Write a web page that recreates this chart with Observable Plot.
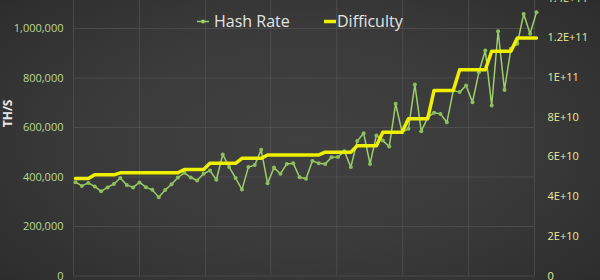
<!DOCTYPE html>
<html>
<head>
<meta charset="utf-8">
<script src="https://cdn.jsdelivr.net/npm/d3@7"></script>
<script src="https://cdn.jsdelivr.net/npm/@observablehq/plot@0.6"></script>
<style>
  html, body { margin: 0; padding: 0; background: #2a2a2a; }
  #chart {
    position: relative; width: 600px; height: 280px; overflow: hidden;
    background: radial-gradient(ellipse 80% 90% at 50% 50%, #414141 0%, #3a3a3a 45%, #2e2e2e 80%, #222222 100%);
    font-family: "Open Sans", sans-serif;
  }
  #chart svg { position: absolute; left: 0; top: 0; overflow: hidden; }
</style>
</head>
<body>
<div id="chart"></div>
<script>
// Network hash rate (TH/s), one reading per sample
const hashRate = [
  379000, 364000, 376000, 362000, 342000, 358000, 372000, 396000, 368000, 358000,
  378000, 359000, 348000, 318000, 347000, 371000, 398000, 417000, 398000, 386000,
  413000, 426000, 389000, 491000, 440000, 396000, 349000, 440000, 448000, 510000,
  375000, 438000, 413000, 453000, 456000, 399000, 393000, 465000, 456000, 453000,
  480000, 481000, 504000, 440000, 545000, 577000, 453000, 568000, 547000, 523000,
  696000, 581000, 595000, 774000, 585000, 640000, 660000, 655000, 621000, 749000,
  743000, 770000, 702000, 823000, 911000, 689000, 989000, 752000, 918000, 938000,
  1059000, 979000, 1066000
];

// Mining difficulty at each sample
const difficulty = [
  4.91e10, 4.91e10, 4.91e10, 5.10e10, 5.10e10, 5.10e10, 5.10e10, 5.20e10, 5.20e10, 5.20e10,
  5.20e10, 5.20e10, 5.20e10, 5.20e10, 5.20e10, 5.20e10, 5.20e10, 5.37e10, 5.37e10, 5.37e10,
  5.37e10, 5.68e10, 5.68e10, 5.68e10, 5.68e10, 5.68e10, 5.93e10, 5.93e10, 5.93e10, 5.93e10,
  6.10e10, 6.10e10, 6.10e10, 6.10e10, 6.10e10, 6.10e10, 6.10e10, 6.10e10, 6.10e10, 6.24e10,
  6.24e10, 6.24e10, 6.24e10, 6.24e10, 6.57e10, 6.57e10, 6.57e10, 6.57e10, 7.24e10, 7.24e10,
  7.24e10, 7.24e10, 7.92e10, 7.92e10, 7.92e10, 7.92e10, 9.35e10, 9.35e10, 9.35e10, 9.35e10,
  1.039e11, 1.039e11, 1.039e11, 1.039e11, 1.039e11, 1.1325e11, 1.1325e11, 1.1325e11, 1.1325e11, 1.2e11,
  1.2e11, 1.2e11, 1.2e11
];

// Axis ticks
const hashTicks = [0, 200000, 400000, 600000, 800000, 1000000];
const difficultyTicks = [0, 2e10, 4e10, 6e10, 8e10, 1e11, 1.2e11, 1.4e11];
const sampleGrid = [-0.3, 10, 20.3, 30.5, 40.8, 51.1, 61.4, 71.7];

// Difficulty shares the hash-rate axis: 1.2E+11 lines up with ~962,000 TH/s
const DIFF_PER_TH = 1.2e11 / 962000;

const rows = hashRate.map((h, i) => ({i, hash: h, diff: difficulty[i]}));
const fmtE = v => v === 0 ? "0" : d3.format(".2~e")(v).toUpperCase();

const HASH_COLOR = "#9ccf6a";
const DIFF_COLOR = "#eef000";

const chart = Plot.plot({
  width: 600,
  height: 280,
  marginLeft: 73,
  marginRight: 65,
  marginTop: 0,
  marginBottom: 4.5,
  style: {background: "transparent", fontFamily: "'Open Sans', sans-serif", overflow: "hidden"},
  x: {domain: [0, hashRate.length - 1], range: [75, 536], axis: null},
  y: {domain: [0, 1.4e6], range: [275.5, 275.5 - 1.4 * 247.5], axis: null},
  marks: [
    Plot.ruleY(hashTicks, {stroke: "#545454", strokeOpacity: 0.7}),
    Plot.ruleX(sampleGrid, {stroke: "#545454", strokeOpacity: 0.7}),
    Plot.axisY(hashTicks, {
      anchor: "left", tickSize: 0, tickPadding: 10, label: null,
      tickFormat: d3.format(","), fill: "#bcd98f", fontSize: 11
    }),
    Plot.axisY(difficultyTicks.map(v => v / DIFF_PER_TH), {
      anchor: "right", tickSize: 0, tickPadding: 12, label: null,
      tickFormat: v => fmtE(Math.round(v * DIFF_PER_TH / 1e9) * 1e9), fill: "#ecec9a", fontSize: 11
    }),
    Plot.line(rows, {x: "i", y: "hash", stroke: HASH_COLOR, strokeWidth: 1.5}),
    Plot.dot(rows, {x: "i", y: "hash", r: 2, fill: "#8cc05c", stroke: "none"}),
    Plot.line(rows, {x: "i", y: d => d.diff / DIFF_PER_TH, stroke: DIFF_COLOR, strokeWidth: 3.5}),
    Plot.text(["TH/S"], {
      frameAnchor: "left", rotate: -90, dx: -65, dy: -11,
      fill: "#e8e8e8", fontSize: 12, fontWeight: "bold"
    })
  ]
});

const root = document.getElementById("chart");
root.appendChild(chart);

// Series key across the top
const legendItems = [
  {label: "Hash Rate", color: HASH_COLOR, width: 1.5, dot: true, x: 197},
  {label: "Difficulty", color: DIFF_COLOR, width: 3.5, dot: false, x: 324}
];
const legend = d3.select(root).append("svg")
  .attr("width", 600).attr("height", 40);
const item = legend.selectAll("g").data(legendItems).join("g")
  .attr("transform", d => `translate(${d.x},21.5)`);
item.append("line")
  .attr("x1", 0).attr("x2", 12)
  .attr("stroke", d => d.color).attr("stroke-width", d => d.width);
item.filter(d => d.dot).append("circle")
  .attr("cx", 6).attr("r", 2).attr("fill", d => d.color);
item.append("text")
  .attr("x", d => d.dot ? 17 : 13).attr("y", 5.5)
  .attr("fill", "#e4e4e4")
  .style("font", "16px 'Open Sans', sans-serif")
  .text(d => d.label);
</script>
</body>
</html>
